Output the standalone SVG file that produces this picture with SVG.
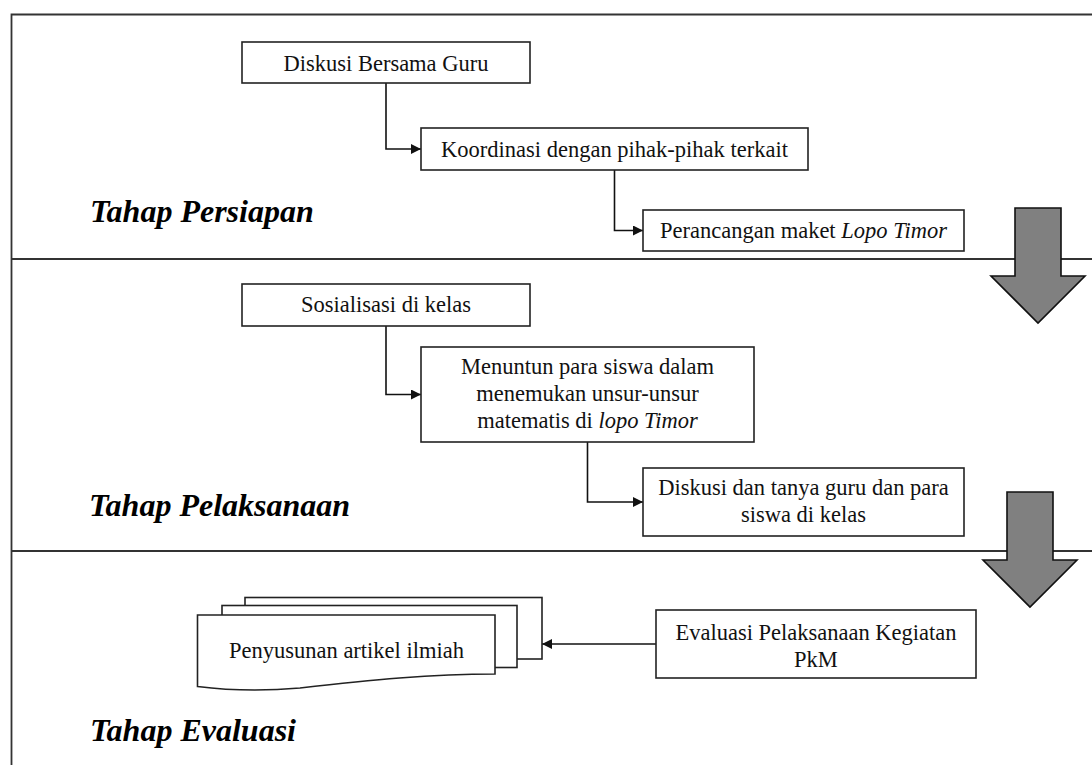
<svg xmlns="http://www.w3.org/2000/svg" width="1092" height="765" viewBox="0 0 1092 765">
<style>
.frame{stroke:#333;stroke-width:1.8;fill:none}
.box{fill:#fff;stroke:#222;stroke-width:1.6}
.t{font-family:"Liberation Serif","Times New Roman",serif;font-size:22.5px;fill:#111;text-anchor:middle}
.lbl{font-family:"Liberation Serif","Times New Roman",serif;font-size:32px;font-weight:bold;font-style:italic;fill:#000}
.con{fill:none;stroke:#111;stroke-width:1.6}
.big{fill:#808080;stroke:#111;stroke-width:1.6;stroke-linejoin:miter}
</style>
<defs>
<marker id="ah" markerUnits="userSpaceOnUse" markerWidth="11" markerHeight="10" refX="10" refY="5" orient="auto">
<path d="M0,0 L10,5 L0,10 Z" fill="#111"/>
</marker>
</defs>
<rect width="1092" height="765" fill="#fff"/>
<g id="frame">
<path class="frame" d="M11.5,765 V14.5 H1092"/>
<line class="frame" x1="11.5" y1="259" x2="1092" y2="259"/>
<line class="frame" x1="11.5" y1="551" x2="1092" y2="551"/>
</g>
<g id="labels">
<text class="lbl" x="90" y="222">Tahap Persiapan</text>
<text class="lbl" x="89" y="516">Tahap Pelaksanaan</text>
<text class="lbl" x="90" y="741">Tahap Evaluasi</text>
</g>
<g id="arrow1"><path class="big" d="M1015,208 H1061 V276 H1085 L1038,323 L991,276 H1015 Z"/></g>
<g id="arrow2"><path class="big" d="M1007,492 H1053 V560 H1077 L1030,607 L983,560 H1007 Z"/></g>
<g id="connectors">
<path class="con" marker-end="url(#ah)" d="M386,83 V149 H421"/>
<path class="con" marker-end="url(#ah)" d="M614.5,170 V230.5 H643"/>
<path class="con" marker-end="url(#ah)" d="M386,326 V394.5 H421"/>
<path class="con" marker-end="url(#ah)" d="M587.5,442 V502 H643"/>
<path class="con" marker-end="url(#ah)" d="M656,644 H542"/>
</g>
<g id="n1"><rect class="box" x="242" y="42" width="288" height="41"/><text class="t" x="386" y="70.5">Diskusi Bersama Guru</text></g>
<g id="n2"><rect class="box" x="421" y="128" width="387" height="42"/><text class="t" x="614.5" y="157">Koordinasi dengan pihak-pihak terkait</text></g>
<g id="n3"><rect class="box" x="643" y="210" width="321" height="41"/><text class="t" x="803.5" y="238">Perancangan maket <tspan font-style="italic">Lopo Timor</tspan></text></g>
<g id="n4"><rect class="box" x="242" y="284" width="288" height="42"/><text class="t" x="386" y="312">Sosialisasi di kelas</text></g>
<g id="n5"><rect class="box" x="421" y="347" width="333" height="95"/>
<text class="t" x="587.5" y="374">Menuntun para siswa dalam</text>
<text class="t" x="587.5" y="401">menemukan unsur-unsur</text>
<text class="t" x="587.5" y="428">matematis di <tspan font-style="italic">lopo Timor</tspan></text></g>
<g id="n6"><rect class="box" x="643" y="468" width="321" height="68"/>
<text class="t" x="803.5" y="495">Diskusi dan tanya guru dan para</text>
<text class="t" x="803.5" y="522">siswa di kelas</text></g>
<g id="n7"><rect class="box" x="656" y="610" width="320" height="68"/>
<text class="t" x="816" y="640">Evaluasi Pelaksanaan Kegiatan</text>
<text class="t" x="816" y="667">PkM</text></g>
<g id="n8">
<rect class="box" x="245" y="597.5" width="297" height="61.5"/>
<rect class="box" x="222" y="605.5" width="295" height="62"/>
<path class="box" d="M197.5,615 H495 V674 C430,674 370,680 300,688 C255,692 225,690 197.5,686.5 Z"/>
<text class="t" x="346.5" y="658">Penyusunan artikel ilmiah</text>
</g>
</svg>
